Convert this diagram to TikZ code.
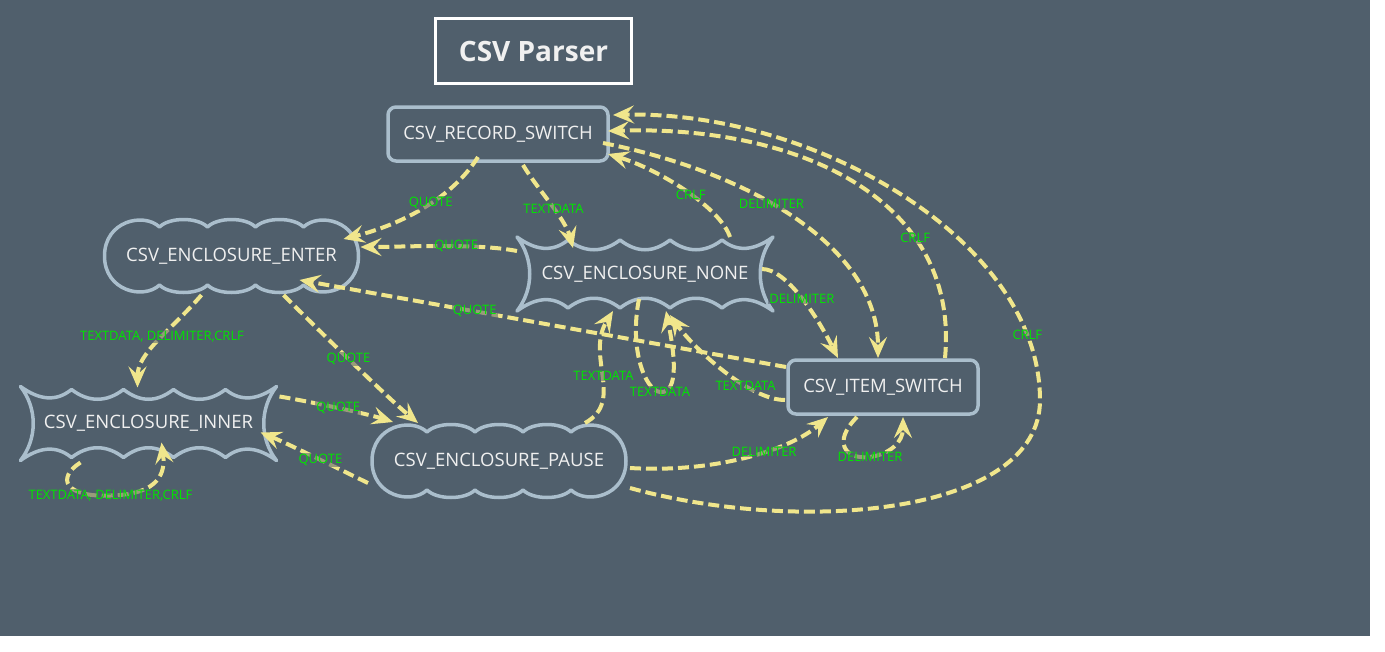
\documentclass[tikz,border=0pt]{standalone}
\usepackage{fontspec}
\setmainfont{Open Sans}
\usetikzlibrary{arrows.meta,calc}
\definecolor{bgc}{RGB}{80,95,108}
\definecolor{nodeb}{RGB}{170,190,204}
\definecolor{edgec}{RGB}{240,230,140}
\definecolor{labc}{RGB}{0,230,0}
\definecolor{txtc}{RGB}{240,240,240}
\newcommand\mynodefont{\fontsize{18.5}{20}\selectfont}
\newcommand\mylabfont{\fontsize{13}{14}\selectfont}
\newcommand\mytitlefont{\fontsize{28}{32}\selectfont\bfseries}
\tikzset{
  shapeline/.style={draw=nodeb, line width=3.5pt, line join=round},
  rbox/.style={shapeline, rounded corners=8pt, text=txtc, font=\mynodefont, inner sep=0pt},
  inv/.style={text=txtc, font=\mynodefont, inner sep=0pt},
  conn/.style={draw=edgec, line width=4pt, dash pattern=on 11pt off 5pt,
    -{Stealth[length=21pt,width=18pt,inset=8pt]}},
  lab/.style={text=labc, font=\mylabfont, inner sep=1pt, fill=bgc, fill opacity=0.55, text opacity=1},
}
\newcommand\cloudat[1]{%
  \draw[shapeline, shift={(#1)}]
    (-72,-29) .. controls (-62,-39) and (-34,-39) .. (-24,-29)
    .. controls (-14,-39) and (14,-39) .. (24,-29)
    .. controls (34,-39) and (62,-39) .. (72,-29)
    .. controls (88,-44) and (127,-35) .. (127,0)
    .. controls (127,35) and (88,44) .. (72,29)
    .. controls (62,39) and (34,39) .. (24,29)
    .. controls (14,39) and (-14,39) .. (-24,29)
    .. controls (-34,39) and (-62,39) .. (-72,29)
    .. controls (-88,44) and (-127,35) .. (-127,0)
    .. controls (-127,-35) and (-88,-44) .. (-72,-29) -- cycle;}
\newcommand\waveat[1]{%
  \draw[shapeline, shift={(#1)}]
    (-128,-37) .. controls (-110,-24) and (-93,-21) .. (-77,-34)
    .. controls (-60,-21) and (-42,-21) .. (-25,-34)
    .. controls (-8,-21) and (8,-21) .. (25,-34)
    .. controls (42,-21) and (60,-21) .. (77,-34)
    .. controls (93,-21) and (110,-24) .. (128,-37)
    .. controls (111,-15) and (111,15) .. (128,37)
    .. controls (110,24) and (93,21) .. (77,34)
    .. controls (60,21) and (42,21) .. (25,34)
    .. controls (8,21) and (-8,21) .. (-25,34)
    .. controls (-42,21) and (-60,21) .. (-77,34)
    .. controls (-93,21) and (-110,24) .. (-128,37)
    .. controls (-111,15) and (-111,-15) .. (-128,-37) -- cycle;}
\begin{document}
\begin{tikzpicture}[x=1pt,y=-1pt]
\useasboundingbox (0,0) rectangle (1385,651);
\fill[white] (0,0) rectangle (1385,651);
\fill[bgc] (0,0) rectangle (1370,636);

% title
\node[draw=white, line width=3pt, minimum width=196pt, minimum height=65pt,
      text=txtc, font=\mytitlefont, inner sep=0pt] (title) at (533.5,51) {CSV Parser};

% nodes
\node[rbox, minimum width=220pt, minimum height=54pt] (rec) at (498,134) {CSV\_RECORD\_SWITCH};
\node[rbox, minimum width=190pt, minimum height=54pt] (item) at (883,387) {CSV\_ITEM\_SWITCH};
\node[inv, minimum width=254pt, minimum height=72pt] (enter) at (231.5,256) {CSV\_ENCLOSURE\_ENTER};
\cloudat{enter.center}
\node[inv, minimum width=254pt, minimum height=72pt] (pause) at (499,461) {CSV\_ENCLOSURE\_PAUSE};
\cloudat{pause.center}
\node[inv, minimum width=256pt, minimum height=74pt] (none) at (645,274) {CSV\_ENCLOSURE\_NONE};
\waveat{none.center}
\node[inv, minimum width=256pt, minimum height=74pt] (inner) at (148.5,423.5) {CSV\_ENCLOSURE\_INNER};
\waveat{inner.center}

% connectors
\draw[conn] ([shift={(-20,23)}]rec.center) .. controls +(-25,40) and +(60,-15) .. ([shift={(112,-17)}]enter.center) node[lab,pos=0.45]{QUOTE};
\draw[conn] ([shift={(25,31)}]rec.center) .. controls +(15,25) and +(-8,-30) .. ([shift={(-72,-26)}]none.center) node[lab,pos=0.55]{TEXTDATA};
\draw[conn] ([shift={(-128,-23)}]none.center) .. controls +(-40,-8) and +(40,0) .. ([shift={(129,-9)}]enter.center) node[lab,pos=0.4]{QUOTE};
\draw[conn] ([shift={(-97,-20)}]item.center) -- ([shift={(68,24)}]enter.center) node[lab,pos=0.64]{QUOTE};
\draw[conn] ([shift={(-30,39)}]enter.center) .. controls +(-30,35) and +(0,-35) .. ([shift={(-11,-36)}]inner.center) node[lab,pos=0.45]{TEXTDATA, DELIMITER,CRLF};
\draw[conn] ([shift={(52,39)}]enter.center) .. controls +(40,40) and +(-30,-25) .. ([shift={(-81,-38)}]pause.center) node[lab,pos=0.46]{QUOTE};
\draw[conn] ([shift={(131,-27)}]inner.center) .. controls +(30,5) and +(-25,-8) .. ([shift={(-106,-39)}]pause.center) node[lab,pos=0.5]{QUOTE};
\draw[conn] ([shift={(-131,22)}]pause.center) .. controls +(-25,-12) and +(25,10) .. ([shift={(112,9)}]inner.center) node[lab,pos=0.45]{QUOTE};
\draw[conn] ([shift={(-68,39)}]inner.center) .. controls +(-25,16) and +(-45,2) .. ([shift={(-38,72)}]inner.center) node[lab,pos=1]{TEXTDATA, DELIMITER,CRLF} .. controls +(50,-1) and +(4,29) .. ([shift={(13,19)}]inner.center);
\draw[conn] ([shift={(86,-38)}]pause.center) .. controls +(40,-22) and +(-28,45) .. ([shift={(-32,37)}]none.center) node[lab,pos=0.5]{TEXTDATA};
\draw[conn] ([shift={(-6,25)}]none.center) .. controls +(-10,50) and +(-15,-2) .. ([shift={(15,118)}]none.center) node[lab,pos=1]{TEXTDATA} .. controls +(20,2) and +(8,40) .. ([shift={(21,37)}]none.center);
\draw[conn] ([shift={(-98,13)}]item.center) .. controls +(-35,0) and +(25,35) .. ([shift={(25,41)}]none.center) node[lab,pos=0.33]{TEXTDATA};
\draw[conn] ([shift={(85,-37)}]none.center) .. controls +(-10,-30) and +(50,15) .. ([shift={(110,20)}]rec.center) node[lab,pos=0.45]{CRLF};
\draw[conn] ([shift={(105,9)}]rec.center) .. controls +(150,30) and +(0,-110) .. ([shift={(-5,-29)}]item.center) node[lab,pos=0.42]{DELIMITER};
\draw[conn] ([shift={(62,-29)}]item.center) .. controls +(15,-158) and +(192,-6) .. ([shift={(110,-3)}]rec.center) node[lab,pos=0.3]{CRLF};
\draw[conn] ([shift={(131,27)}]pause.center) .. controls +(170,47) and +(0,115) .. ([shift={(157,13)}]item.center) .. controls +(0,-160) and +(200,-5) .. ([shift={(115,-19)}]rec.center) node[lab,pos=0.14]{CRLF};
\draw[conn] ([shift={(117,-5)}]none.center) .. controls +(25,0) and +(-20,-40) .. ([shift={(-45,-29)}]item.center) node[lab,pos=0.5]{DELIMITER};
\draw[conn] ([shift={(131,7)}]pause.center) .. controls +(80,5) and +(-40,35) .. ([shift={(-55,30)}]item.center) node[lab,pos=0.6]{DELIMITER};
\draw[conn] ([shift={(-26,30)}]item.center) .. controls +(-25,25) and +(-25,3) .. ([shift={(-13,70)}]item.center) node[lab,pos=1]{DELIMITER} .. controls +(20,-3) and +(0,25) .. ([shift={(20,30)}]item.center);
\end{tikzpicture}
\end{document}
